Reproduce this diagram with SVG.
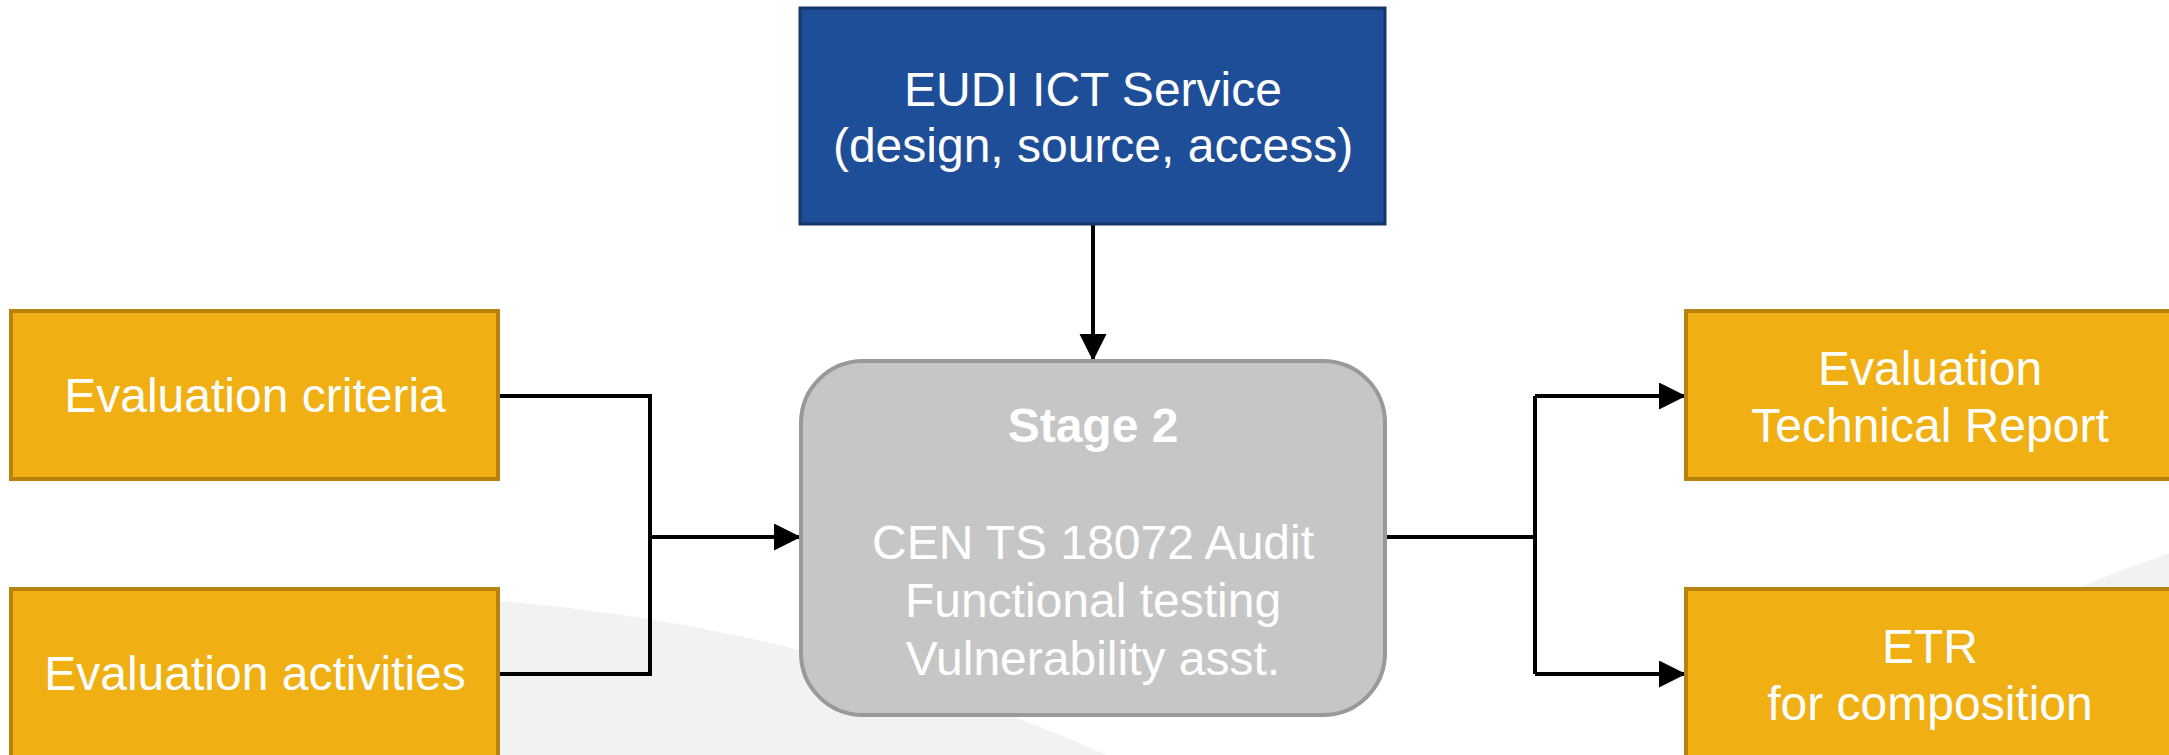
<svg xmlns="http://www.w3.org/2000/svg" width="2169" height="755" viewBox="0 0 2169 755">
  <style>
    .lbl { font-family: "Liberation Sans", Arial, sans-serif; font-size: 48px; fill: #ffffff; text-anchor: middle; }
    .bold { font-weight: bold; }
    .orange { fill: #f0b013; stroke: #b8820e; stroke-width: 4; }
    .wire { fill: none; stroke: #000000; stroke-width: 4; }
  </style>
  <defs>
    <marker id="arrow" markerUnits="userSpaceOnUse" markerWidth="28" markerHeight="28" refX="27" refY="13.5" orient="auto">
      <path d="M0,0 L27,13.5 L0,27 Z" fill="#000000"/>
    </marker>
  </defs>

  <!-- soft background shapes -->
  <g id="background">
    <rect x="0" y="0" width="2169" height="755" fill="#ffffff"/>
    <path d="M100,612 A1871,1871 0 0 1 1107,755 L100,755 Z" fill="#f2f2f2"/>
    <circle cx="2460" cy="1459" r="951" fill="#f2f2f2"/>
  </g>

  <!-- connectors -->
  <g id="connectors">
    <path class="wire" d="M1093,224 L1093,361" marker-end="url(#arrow)"/>
    <path class="wire" d="M498,396 L650,396 L650,674 L498,674"/>
    <path class="wire" d="M650,537 L801,537" marker-end="url(#arrow)"/>
    <path class="wire" d="M1385,537 L1535,537"/>
    <path class="wire" d="M1535,396 L1535,674"/>
    <path class="wire" d="M1535,396 L1686,396" marker-end="url(#arrow)"/>
    <path class="wire" d="M1535,674 L1686,674" marker-end="url(#arrow)"/>
  </g>

  <g id="node-service">
    <rect x="800" y="8" width="585" height="216" fill="#1f4e99" stroke="#17376b" stroke-width="3"/>
    <text class="lbl" x="1093" y="106">EUDI ICT Service</text>
    <text class="lbl" x="1093" y="162">(design, source, access)</text>
  </g>

  <g id="node-stage2">
    <rect x="801" y="361" width="584" height="354" rx="62" ry="62" fill="#c6c6c6" stroke="#999999" stroke-width="4"/>
    <text class="lbl bold" x="1093" y="442">Stage 2</text>
    <text class="lbl" x="1093" y="559">CEN TS 18072 Audit</text>
    <text class="lbl" x="1093" y="617">Functional testing</text>
    <text class="lbl" x="1093" y="675">Vulnerability asst.</text>
  </g>

  <g id="node-criteria">
    <rect class="orange" x="11" y="311" width="487" height="168"/>
    <text class="lbl" x="255" y="412">Evaluation criteria</text>
  </g>

  <g id="node-activities">
    <rect class="orange" x="11" y="589" width="487" height="170"/>
    <text class="lbl" x="255" y="690">Evaluation activities</text>
  </g>

  <g id="node-etr">
    <rect class="orange" x="1686" y="311" width="487" height="168"/>
    <text class="lbl" x="1930" y="385">Evaluation</text>
    <text class="lbl" x="1930" y="442">Technical Report</text>
  </g>

  <g id="node-etr-composition">
    <rect class="orange" x="1686" y="589" width="487" height="170"/>
    <text class="lbl" x="1930" y="663">ETR</text>
    <text class="lbl" x="1930" y="720">for composition</text>
  </g>
</svg>
